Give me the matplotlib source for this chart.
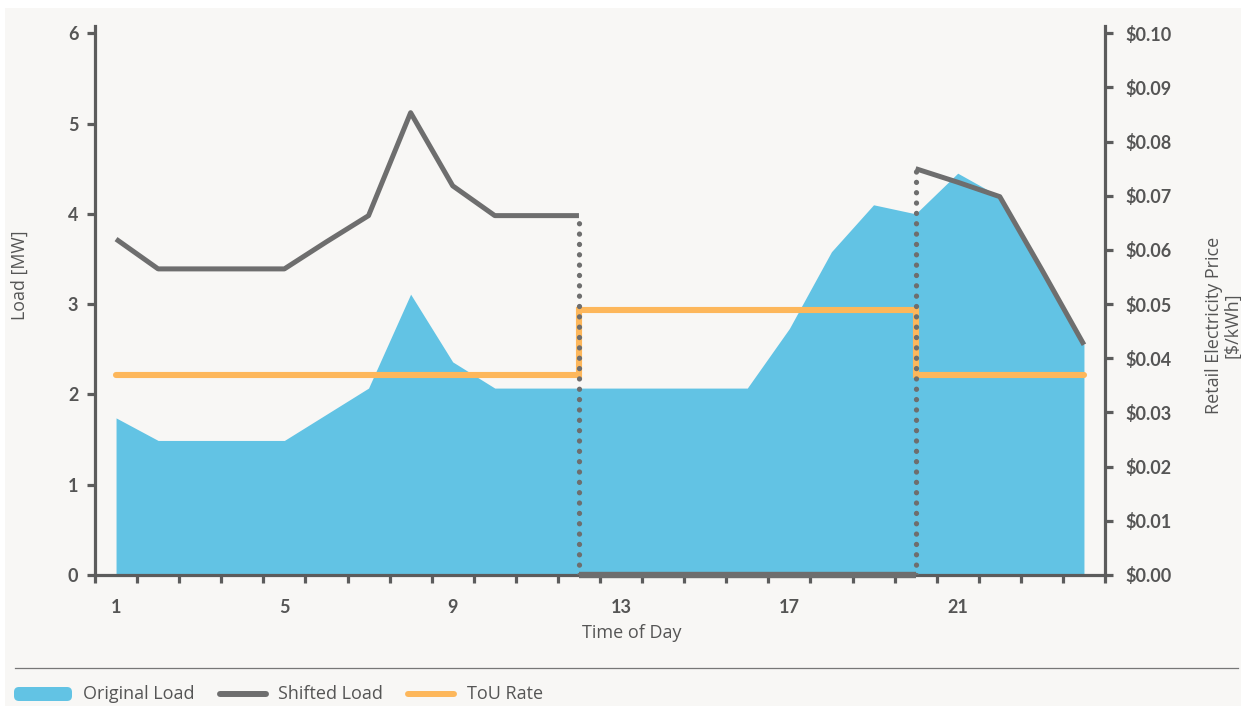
import matplotlib
matplotlib.use('Agg')
import matplotlib.pyplot as plt
from matplotlib.lines import Line2D
from matplotlib.patches import Rectangle, FancyBboxPatch
from matplotlib.ticker import FixedLocator, FuncFormatter

# ---------------- data ----------------
hours = [1, 2, 3, 4, 5, 6, 7, 8, 9, 10, 11, 12, 13, 14, 15, 16, 17, 18, 19, 20, 21, 22, 23, 24]
original_load = [1.74, 1.49, 1.49, 1.49, 1.49, 1.78, 2.07, 3.11, 2.36, 2.07, 2.07, 2.07,
                 2.07, 2.07, 2.07, 2.07, 2.73, 3.58, 4.10, 4.00, 4.45, 4.19, 3.38, 2.55]
# shifted load, split at the ToU peak window boundaries
shifted_am_hours = [1, 2, 3, 4, 5, 6, 7, 8, 9, 10, 11, 12]
shifted_am = [3.72, 3.39, 3.39, 3.39, 3.39, 3.69, 3.98, 5.12, 4.31, 3.98, 3.98, 3.98]
shifted_peak_hours = [12, 13, 14, 15, 16, 17, 18, 19, 20]
shifted_peak = [0, 0, 0, 0, 0, 0, 0, 0, 0]
shifted_pm_hours = [20, 21, 22, 23, 24]
shifted_pm = [4.50, 4.35, 4.19, 3.38, 2.55]
tou_rate = [0.037, 0.037, 0.037, 0.037, 0.037, 0.037, 0.037, 0.037, 0.037, 0.037, 0.037,
            0.049, 0.049, 0.049, 0.049, 0.049, 0.049, 0.049, 0.049,
            0.037, 0.037, 0.037, 0.037, 0.037]
xtick_labels = [1, 5, 9, 13, 17, 21]
load_ticks = [0, 1, 2, 3, 4, 5, 6]
price_ticks = [0.00, 0.01, 0.02, 0.03, 0.04, 0.05, 0.06, 0.07, 0.08, 0.09, 0.10]
legend_labels = ['Original Load', 'Shifted Load', 'ToU Rate']

# ---------------- style ----------------
BLUE = '#62c3e4'
GRAY = '#6e6e6e'
ORANGE = '#fdb75b'
SPINE = '#5c5c5c'
TEXT = '#555555'
BG = '#f8f7f5'
TICKFONT = 'Lato'
LABELFONT = 'Open Sans'

plt.rcParams['font.family'] = [TICKFONT, 'DejaVu Sans']

W, H = 1241, 706
fig = plt.figure(figsize=(W / 100, H / 100), dpi=100, facecolor='white')
fig.patches.append(Rectangle((5 / W, 0), 1 - 5 / W, 1 - 8 / H, transform=fig.transFigure,
                             facecolor=BG, edgecolor='none', zorder=-10))

def fx(px):
    return px / W

def fy(py):
    return 1 - py / H

left, right, bottom, top = 95, 1105, 575, 26
rect = [fx(left), fy(bottom), fx(right) - fx(left), fy(top) - fy(bottom)]
ax = fig.add_axes(rect)
ax.set_facecolor('none')
ax2 = ax.twinx()
ax2.set_facecolor('none')
ax3 = fig.add_axes(rect, sharex=ax, sharey=ax)
ax3.set_facecolor('none')
ax3.axis('off')

ymax = 6.08
ax.set_xlim(0.5, 24.5)
ax.set_ylim(0, ymax)
ax2.set_ylim(0, 0.10 * ymax / 6)

# original load area
ax.fill_between(hours, original_load, 0, color=BLUE, linewidth=0, zorder=2)

# ToU rate (step)
ax2.plot(hours, tou_rate, drawstyle='steps-post', color=ORANGE, lw=4.4,
         solid_capstyle='round', solid_joinstyle='miter', zorder=3)

# shifted load
lw_g = 3.6
ax3.plot(shifted_am_hours, shifted_am, color=GRAY, lw=lw_g, solid_capstyle='butt', zorder=4)
ax3.plot(shifted_pm_hours, shifted_pm, color=GRAY, lw=lw_g, solid_capstyle='butt', zorder=4)
ax3.plot(shifted_peak_hours, shifted_peak, color=GRAY, lw=4.6, solid_capstyle='butt',
         zorder=6, clip_on=False)
dot_style = dict(color=GRAY, lw=3.8, linestyle=(0, (0.01, 1.95)), dash_capstyle='round', zorder=5)
ax3.plot([shifted_peak_hours[0], shifted_am_hours[-1]], [shifted_peak[0], shifted_am[-1]], **dot_style)
ax3.plot([shifted_peak_hours[-1], shifted_pm_hours[0]], [shifted_peak[-1], shifted_pm[0]], **dot_style)

# spines
for a in (ax, ax2):
    for s in a.spines.values():
        s.set_color(SPINE)
        s.set_linewidth(2.3)
ax.spines['top'].set_visible(False)
ax.spines['right'].set_visible(False)
ax2.spines['top'].set_visible(False)
ax2.spines['left'].set_visible(False)
ax2.spines['bottom'].set_visible(False)

# ticks
ax.set_yticks(load_ticks)
ax.set_yticklabels([str(t) for t in load_ticks])
ax.tick_params(axis='y', direction='out', length=6, width=2.3, color=SPINE, pad=6,
               labelsize=13, labelcolor=TEXT)
ax.set_xticks(xtick_labels)
ax.set_xticklabels([str(t) for t in xtick_labels])
ax.xaxis.set_minor_locator(FixedLocator([h - 0.5 for h in hours] + [hours[-1] + 0.5]))
ax.tick_params(axis='x', which='major', length=0, pad=17, labelsize=13, labelcolor=TEXT)
ax.tick_params(axis='x', which='minor', direction='out', length=6, width=2.3, color=SPINE)

ax2.set_yticks(price_ticks)
ax2.yaxis.set_major_formatter(FuncFormatter(lambda v, p: '${:.2f}'.format(v)))
ax2.tick_params(axis='y', direction='out', length=6, width=2.3, color=SPINE, pad=9,
                labelsize=13, labelcolor=TEXT)

for lab in ax.get_yticklabels() + ax.get_xticklabels() + ax2.get_yticklabels():
    lab.set_fontweight('bold')

# axis labels
lf = [LABELFONT, 'DejaVu Sans']
fig.text(fx(20), fy(275), 'Load [MW]', rotation=90, ha='center', va='center',
         fontsize=12.8, color=TEXT, family=lf, fontweight='medium')
fig.text(fx(632), fy(633), 'Time of Day', ha='center', va='center', fontsize=13,
         color=TEXT, family=lf, fontweight='medium')
fig.text(fx(1223), fy(325), 'Retail Electricity Price\n[$/kWh]', rotation=90, ha='center',
         va='center', fontsize=13, color=TEXT, linespacing=1.0, multialignment='center',
         family=lf, fontweight='medium')

# separator line
fig.add_artist(Line2D([fx(15), fx(1238)], [fy(668), fy(668)], color='#777777', lw=0.9))

# legend (manual)
ly = fy(694)
fig.add_artist(FancyBboxPatch((14, H - 701), 58, 14, boxstyle='round,pad=0,rounding_size=5',
                              transform=None, facecolor=BLUE, edgecolor='none'))
fig.add_artist(Line2D([fx(220), fx(266)], [ly, ly], color=GRAY, lw=4.3, solid_capstyle='round'))
fig.add_artist(Line2D([fx(408), fx(454)], [ly, ly], color=ORANGE, lw=4.3, solid_capstyle='round'))
for x0, lab in zip([83, 278, 467], legend_labels):
    fig.text(fx(x0), ly, lab, ha='left', va='center', fontsize=13, color=TEXT,
             family=lf, fontweight='medium')

fig.savefig('out.png', dpi=100, facecolor='white')
